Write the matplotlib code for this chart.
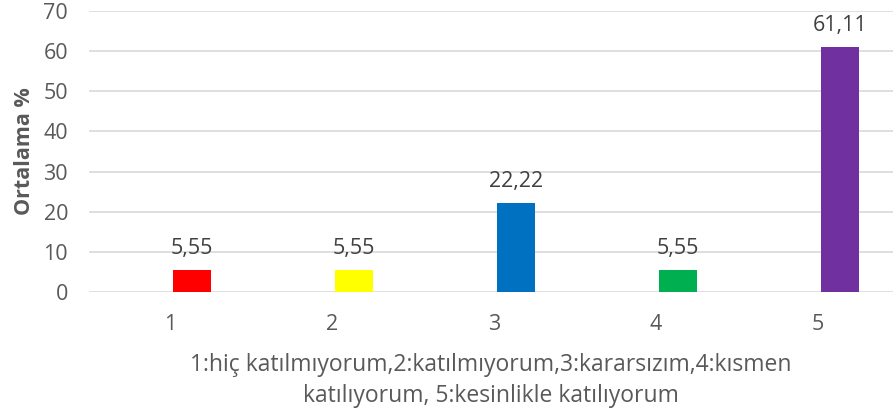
import numpy as np
import matplotlib.pyplot as plt

plt.rcParams['font.family'] = ['Open Sans', 'DejaVu Sans']

categories = ['1', '2', '3', '4', '5']
values = [5.55, 5.55, 22.22, 5.55, 61.11]
labels = ['5,55', '5,55', '22,22', '5,55', '61,11']
colors = ['#FF0000', '#FFFF00', '#0070C0', '#00B050', '#7030A0']

fig = plt.figure(figsize=(8.93, 4.15), dpi=100)
ax = fig.add_axes([89 / 893, 123 / 415, 804 / 893, 281 / 415])

x = np.arange(1, len(categories) + 1)
bar_x = x + 0.136
bars = ax.bar(bar_x, values, width=0.23, color=colors, zorder=3)

for b, lab in zip(bars, labels):
    ax.annotate(lab, (b.get_x() + b.get_width() / 2, b.get_height()),
                xytext=(0, 8), textcoords='offset points',
                ha='center', va='bottom', fontsize=15.5, color='#404040')

ax.set_xlim(0.5, 0.5 + 804 / 162)
ax.set_ylim(0, 70)
ax.set_yticks(range(0, 71, 10))
ax.set_xticks(x)
ax.set_xticklabels(categories)
ax.grid(axis='y', color='#D9D9D9', linewidth=1.2, zorder=0)
for s in ['top', 'right', 'left', 'bottom']:
    ax.spines[s].set_visible(False)
ax.tick_params(length=0, labelsize=15.5, colors='#595959')
ax.tick_params(axis='y', pad=15)
ax.tick_params(axis='x', pad=16)

ax.set_ylabel('Ortalama %', fontsize=15.5, fontweight='bold', color='#595959', labelpad=6)
ax.set_xlabel('1:hiç katılmıyorum,2:katılmıyorum,3:kararsızım,4:kısmen\nkatılıyorum, 5:kesinlikle katılıyorum',
              fontsize=16.5, color='#595959', labelpad=13, linespacing=1.35)

fig.savefig('out.png', dpi=100)
